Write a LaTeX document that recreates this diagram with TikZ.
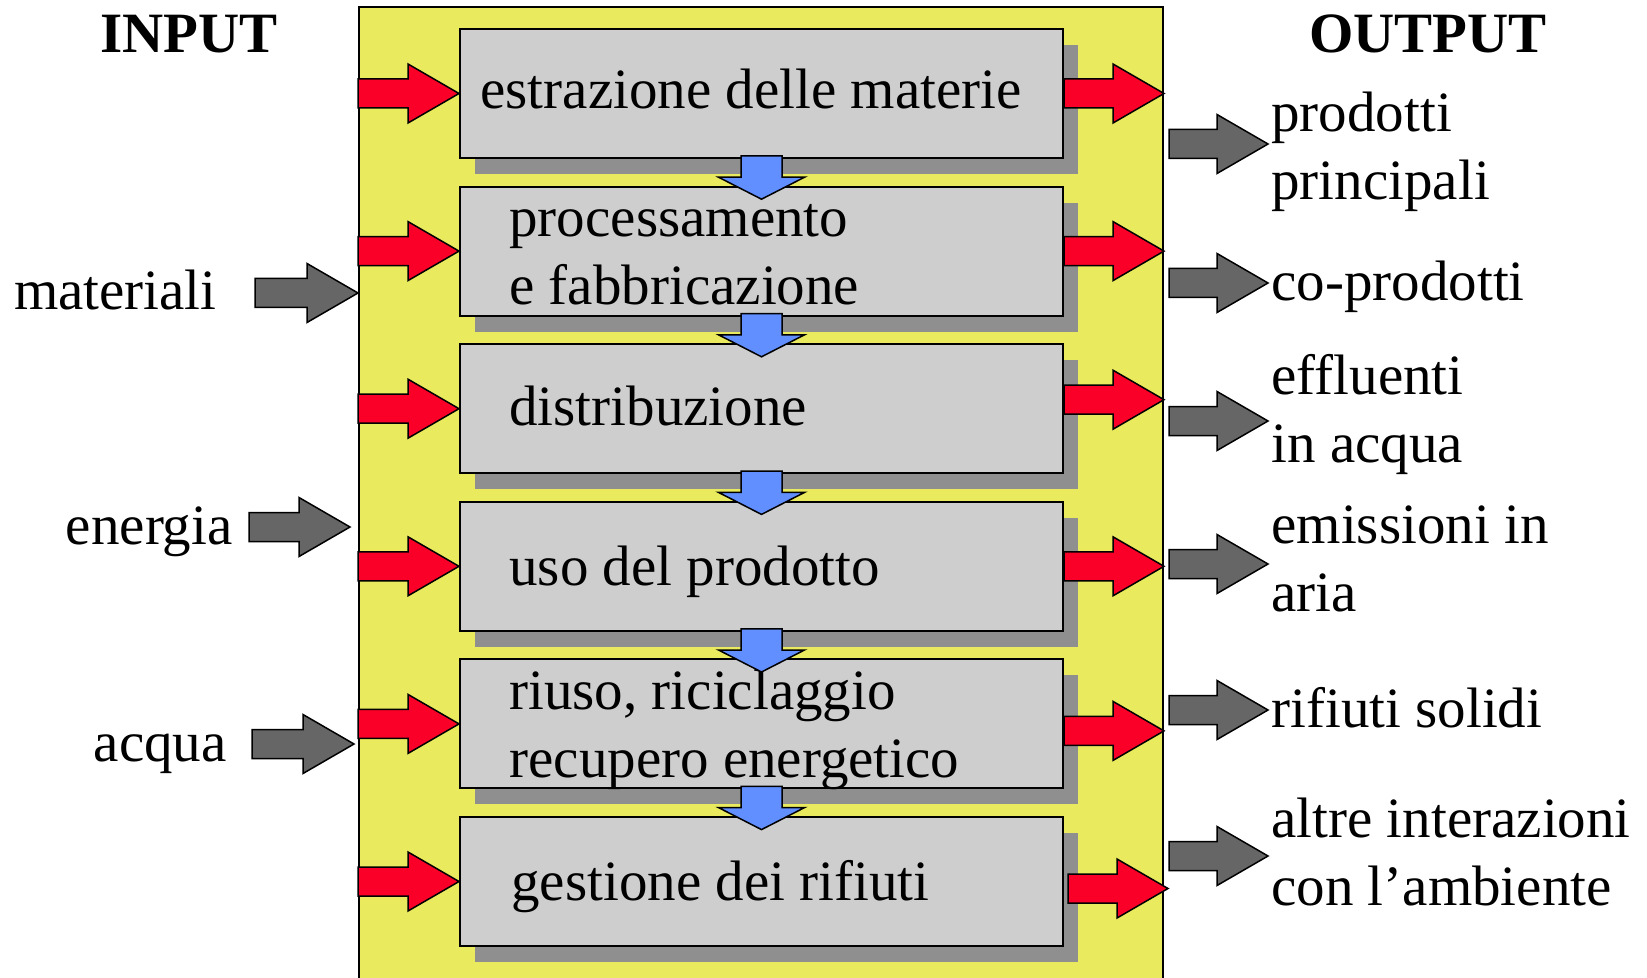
\documentclass[tikz,border=0pt]{standalone}
\usepackage{fontspec}
\setmainfont{Liberation Serif}
\usetikzlibrary{calc,shadows}

\definecolor{panelyellow}{RGB}{234,234,94}
\definecolor{stagegray}{RGB}{206,206,206}
\definecolor{shadegray}{RGB}{143,143,143}
\definecolor{flowred}{RGB}{250,0,40}
\definecolor{flowblue}{RGB}{97,143,255}
\definecolor{flowgray}{RGB}{102,102,102}

% block arrow going right: tail x from #2, tip at #3
\newcommand{\hblock}[3]{%
  \draw[#1] let \p1=(#2), \p2=(#3) in
    (\x1,\y2+7.25pt) -- (\x2-25.5pt,\y2+7.25pt) -- (\x2-25.5pt,\y2+14.75pt) -- (\p2)
    -- (\x2-25.5pt,\y2-14.75pt) -- (\x2-25.5pt,\y2-7.25pt) -- (\x1,\y2-7.25pt) -- cycle;}
% block arrow going down: tail y from #2, tip at #3
\newcommand{\vblock}[3]{%
  \draw[#1] let \p1=(#2), \p2=(#3) in
    (\x2-10.25pt,\y1) -- (\x2-10.25pt,\y2+11pt) -- (\x2-21.5pt,\y2+11pt) -- (\p2)
    -- (\x2+21.5pt,\y2+11pt) -- (\x2+10.25pt,\y2+11pt) -- (\x2+10.25pt,\y1) -- cycle;}

\tikzset{
  panel/.style={draw=black, line width=1pt, fill=panelyellow, minimum width=402pt,
    minimum height=495pt, anchor=north west, inner sep=0pt},
  stage/.style={draw=black, line width=1pt, fill=stagegray, minimum width=301.5pt,
    minimum height=64.5pt, anchor=north west, inner sep=0pt,
    drop shadow={shadow xshift=7.5pt, shadow yshift=-8pt, fill=shadegray, opacity=1}},
  txt/.style={inner sep=0pt, align=left, font=\fontsize{28.5pt}{34pt}\selectfont},
  head/.style={inner sep=0pt, font=\fontsize{28.5pt}{34pt}\selectfont\bfseries},
  redarr/.style={draw=black, line width=0.75pt, fill=flowred, line join=miter},
  bluearr/.style={draw=black, line width=0.75pt, fill=flowblue, line join=miter},
  grayarr/.style={draw=black, line width=0.75pt, fill=flowgray, line join=miter},
}

\begin{document}
\begin{tikzpicture}[x=0.5pt, y=-0.5pt]
\useasboundingbox (0,0) rectangle (1647,978);

% life cycle frame
\node[panel] (pnl) at (358,6) {};

% stages
\node[stage] (s1) at (459,28) {};
\node[stage] (s2) at (459,185.6) {};
\node[stage] (s3) at (459,343.2) {};
\node[stage] (s4) at (459,500.8) {};
\node[stage] (s5) at (459,658.4) {};
\node[stage] (s6) at (459,816) {};

% stage names (multi-line: base = last line)
\node[txt, anchor=base west] (t1) at (480,109) {estrazione delle materie};
\node[txt, anchor=base west] (t2) at (509,305) {processamento\\e fabbricazione};
\node[txt, anchor=base west] (t3) at (509,425) {distribuzione};
\node[txt, anchor=base west] (t4) at (509,585) {uso del prodotto};
\node[txt, anchor=base west] (t5) at (509,777) {riuso, riciclaggio\\recupero energetico};
\node[txt, anchor=base west] (t6) at (511,900) {gestione dei rifiuti};

% flow down the chain
\vblock{bluearr}{$(s1.south)+(0,-3)$}{$(s2.north)+(0,13.6)$}
\vblock{bluearr}{$(s2.south)+(0,-3)$}{$(s3.north)+(0,13.6)$}
\vblock{bluearr}{$(s3.south)+(0,-3)$}{$(s4.north)+(0,13.6)$}
\vblock{bluearr}{$(s4.south)+(0,-3)$}{$(s5.north)+(0,13.6)$}
\vblock{bluearr}{$(s5.south)+(0,-3)$}{$(s6.north)+(0,13.6)$}

% inputs to each stage
\hblock{redarr}{pnl.west}{s1.west}
\hblock{redarr}{pnl.west}{s2.west}
\hblock{redarr}{pnl.west}{s3.west}
\hblock{redarr}{pnl.west}{s4.west}
\hblock{redarr}{pnl.west}{s5.west}
\hblock{redarr}{pnl.west}{s6.west}

% outputs of each stage
\hblock{redarr}{s1.east}{pnl.east |- s1.east}
\hblock{redarr}{s2.east}{pnl.east |- s2.east}
\hblock{redarr}{s3.east}{$(pnl.east |- s3.east)+(0,-9)$}
\hblock{redarr}{s4.east}{pnl.east |- s4.east}
\hblock{redarr}{s5.east}{$(pnl.east |- s5.east)+(0,7)$}
\hblock{redarr}{$(s6.east)+(4,0)$}{$(pnl.east |- s6.east)+(4,7)$}

% headings
\node[head, anchor=base] (inp) at (189,53) {INPUT};
\node[head, anchor=base] (outp) at (1428,53) {OUTPUT};

% system inputs
\node[txt, anchor=base east] (mat) at (217,310) {materiali};
\node[txt, anchor=base east] (ene) at (233,544) {energia};
\node[txt, anchor=base east] (acq) at (227,761) {acqua};

\hblock{grayarr}{$(mat.east)+(38,0)$}{$(pnl.west |- mat.base east)+(0,-17)$}
\hblock{grayarr}{$(ene.east)+(16,0)$}{$(ene.base east)+(117,-17)$}
\hblock{grayarr}{$(acq.east)+(25,0)$}{$(acq.base east)+(127,-17)$}

% system outputs (multi-line: base = last line)
\node[txt, anchor=base west] (o1) at (1271,200) {prodotti\\principali};
\node[txt, anchor=base west] (o2) at (1271,301) {co-prodotti};
\node[txt, anchor=base west] (o3) at (1271,462) {effluenti\\in acqua};
\node[txt, anchor=base west] (o4) at (1271,611) {emissioni in\\aria};
\node[txt, anchor=base west] (o5) at (1271,727) {rifiuti solidi};
\node[txt, anchor=base west] (o6) at (1271,905) {altre interazioni\\con l’ambiente};

\hblock{grayarr}{$(pnl.east)+(5,0)$}{$(o1.base west)+(-3,-56)$}
\hblock{grayarr}{$(pnl.east)+(5,0)$}{$(o2.base west)+(-3,-18)$}
\hblock{grayarr}{$(pnl.east)+(5,0)$}{$(o3.base west)+(-3,-41)$}
\hblock{grayarr}{$(pnl.east)+(5,0)$}{$(o4.base west)+(-3,-47)$}
\hblock{grayarr}{$(pnl.east)+(5,0)$}{$(o5.base west)+(-3,-17)$}
\hblock{grayarr}{$(pnl.east)+(5,0)$}{$(o6.base west)+(-3,-49)$}
\end{tikzpicture}
\end{document}
